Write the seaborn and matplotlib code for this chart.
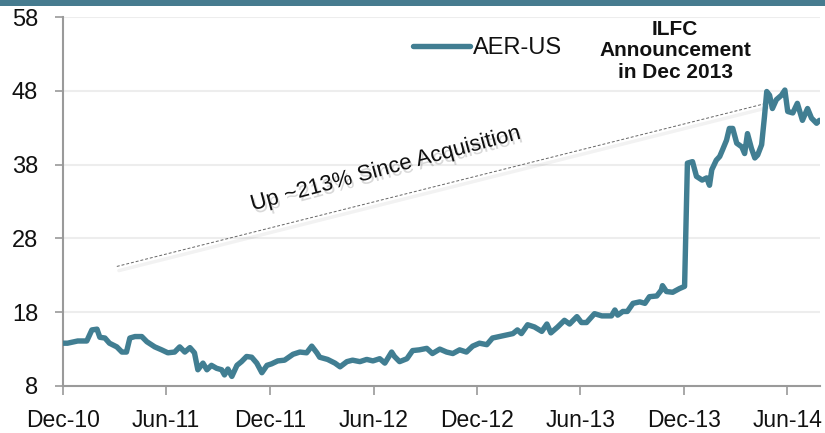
import matplotlib
matplotlib.use("Agg")
import matplotlib.pyplot as plt
import matplotlib.dates as mdates
import matplotlib.patheffects as pe
from matplotlib.patches import Rectangle
import seaborn as sns
import pandas as pd

# ---- data ----
dates = [
    "2010-12-01", "2010-12-09", "2010-12-27", "2011-01-12", "2011-01-21", "2011-01-30",
    "2011-02-04", "2011-02-13", "2011-02-21", "2011-03-06", "2011-03-15", "2011-03-23",
    "2011-03-29", "2011-04-07", "2011-04-19", "2011-04-28", "2011-05-12", "2011-05-24",
    "2011-06-04", "2011-06-16", "2011-06-25", "2011-07-04", "2011-07-13", "2011-07-21",
    "2011-07-27", "2011-08-05", "2011-08-12", "2011-08-20", "2011-08-29", "2011-09-07",
    "2011-09-12", "2011-09-18", "2011-09-25", "2011-10-04", "2011-10-12", "2011-10-21",
    "2011-10-30", "2011-11-08", "2011-11-17", "2011-11-26", "2011-12-04", "2011-12-15",
    "2011-12-27", "2012-01-11", "2012-01-23", "2012-02-04", "2012-02-13", "2012-02-22",
    "2012-02-27", "2012-03-12", "2012-03-25", "2012-04-03", "2012-04-15", "2012-04-25",
    "2012-05-08", "2012-05-20", "2012-05-31", "2012-06-12", "2012-06-21", "2012-07-03",
    "2012-07-08", "2012-07-17", "2012-07-30", "2012-08-09", "2012-08-21", "2012-09-03",
    "2012-09-13", "2012-09-26", "2012-10-08", "2012-10-19", "2012-10-31", "2012-11-12",
    "2012-11-23", "2012-12-05", "2012-12-18", "2012-12-28", "2013-01-15", "2013-02-02",
    "2013-02-10", "2013-02-17", "2013-02-28", "2013-03-12", "2013-03-25", "2013-04-03",
    "2013-04-10", "2013-04-22", "2013-05-04", "2013-05-13", "2013-05-26", "2013-06-03",
    "2013-06-12", "2013-06-26", "2013-07-09", "2013-07-26", "2013-08-01", "2013-08-06",
    "2013-08-15", "2013-08-23", "2013-09-02", "2013-09-14", "2013-09-23", "2013-10-01",
    "2013-10-14", "2013-10-22", "2013-10-24", "2013-10-31", "2013-11-11", "2013-11-23",
    "2013-12-02", "2013-12-07", "2013-12-16", "2013-12-23", "2014-01-02", "2014-01-10",
    "2014-01-15", "2014-01-19", "2014-01-27", "2014-02-02", "2014-02-07", "2014-02-14",
    "2014-02-19", "2014-02-25", "2014-03-04", "2014-03-13", "2014-03-18", "2014-03-23",
    "2014-03-30", "2014-04-05", "2014-04-10", "2014-04-17", "2014-04-22", "2014-04-26",
    "2014-05-01", "2014-05-06", "2014-05-13", "2014-05-22", "2014-05-28", "2014-06-02",
    "2014-06-11", "2014-06-19", "2014-06-28", "2014-07-07", "2014-07-14", "2014-07-23",
    "2014-07-28",
]
aer_us = [
    13.8, 13.8, 14.1, 14.1, 15.6, 15.7,
    14.6, 14.5, 13.8, 13.3, 12.6, 12.6,
    14.5, 14.7, 14.7, 14.0, 13.3, 12.9,
    12.5, 12.6, 13.3, 12.6, 13.2, 12.5,
    10.2, 11.1, 10.2, 10.8, 10.4, 10.2,
    9.5, 10.3, 9.3, 10.8, 11.3, 12.0,
    11.9, 11.1, 9.8, 10.8, 11.0, 11.4,
    11.5, 12.3, 12.6, 12.5, 13.4, 12.5,
    11.9, 11.6, 11.1, 10.6, 11.3, 11.5,
    11.3, 11.6, 11.4, 11.7, 11.1, 12.6,
    12.0, 11.3, 11.7, 12.8, 12.9, 13.1,
    12.4, 13.0, 12.6, 12.4, 12.9, 12.6,
    13.4, 13.8, 13.6, 14.5, 14.8, 15.1,
    15.6, 15.1, 16.3, 16.0, 15.4, 16.4,
    15.2, 16.0, 16.9, 16.4, 17.4, 16.6,
    16.6, 17.8, 17.5, 17.5, 18.3, 17.6,
    18.1, 18.1, 19.2, 19.4, 19.2, 20.1,
    20.2, 21.0, 21.6, 20.8, 20.7, 21.2,
    21.5, 38.2, 38.4, 36.4, 35.9, 36.2,
    35.2, 37.3, 38.6, 39.1, 40.0, 41.3,
    42.9, 42.9, 40.9, 40.4, 39.5, 42.2,
    40.2, 38.9, 39.3, 40.7, 44.5, 47.9,
    47.4, 45.6, 46.8, 47.4, 48.1, 45.2,
    45.0, 46.3, 44.0, 45.6, 44.3, 43.6,
    44.0,
]
series_name = "AER-US"

trend_dates = ["2011-03-06", "2014-04-25"]
trend_values = [24.2, 46.3]
trend_label = "Up ~213% Since Acquisition"
trend_label_date = "2012-06-23"
trend_label_value = 37.4

note_text = "ILFC\nAnnouncement\nin Dec 2013"

tick_dates = ["2010-12-01", "2011-06-01", "2011-12-01", "2012-06-01",
              "2012-12-01", "2013-06-01", "2013-12-01", "2014-06-01"]
y_ticks = [8, 18, 28, 38, 48, 58]

# ---- style ----
sns.set_theme(style="white")
plt.rcParams["font.family"] = ["Liberation Sans", "DejaVu Sans"]

LINE_COLOR = "#417E92"
BAR_COLOR = "#467B8F"
AXIS_GREY = "#9A9A9A"
GRID_GREY = "#EDEDED"
TEXT_COLOR = "#111111"

df = pd.DataFrame({"date": pd.to_datetime(dates), "value": aer_us})

fig = plt.figure(figsize=(8.25, 4.33), dpi=100)
ax = fig.add_axes([63 / 825, 1 - 386 / 433, (820 - 63) / 825, (386 - 17) / 433])

# header bar
fig.patches.append(Rectangle((0, 1 - 5.5 / 433), 1, 5.5 / 433, transform=fig.transFigure,
                             facecolor=BAR_COLOR, edgecolor="none", zorder=10))

for yv in y_ticks[1:]:
    ax.axhline(yv, color=GRID_GREY, lw=1.5, zorder=0)

# trend line (dashed) with a soft solid shadow
tdates = pd.to_datetime(trend_dates)
ax.plot(tdates, trend_values, color="#000000", lw=2.5, alpha=0.05, zorder=1,
        path_effects=[pe.Stroke(offset=(1.5, -3))])
ax.plot(tdates, trend_values, color="#666666", lw=0.7,
        linestyle=(0, (3, 2)), zorder=2)

sns.lineplot(data=df, x="date", y="value", ax=ax, color=LINE_COLOR, lw=3.9,
             label=series_name, zorder=3)

ax.text(pd.Timestamp(trend_label_date), trend_label_value, trend_label,
        rotation=15, rotation_mode="anchor", ha="center", va="center",
        fontsize=16, color=TEXT_COLOR, zorder=4,
        path_effects=[pe.withSimplePatchShadow(offset=(1.5, -2.5), shadow_rgbFace="#000000", alpha=0.15)])

fig.text(675 / 825, 1 - 51 / 433, note_text, ha="center", va="center",
         fontsize=15, fontweight="bold", color=TEXT_COLOR, linespacing=1.15)

ax.set_xlim(pd.Timestamp("2010-12-01"), pd.Timestamp("2014-07-29"))
ax.set_ylim(8, 58)
ax.set_yticks(y_ticks)
ax.set_xticks(pd.to_datetime(tick_dates))
ax.xaxis.set_major_formatter(mdates.DateFormatter("%b-%y"))
ax.set_xlabel("")
ax.set_ylabel("")

for side in ["top", "right"]:
    ax.spines[side].set_visible(False)
for side in ["left", "bottom"]:
    ax.spines[side].set_color(AXIS_GREY)
    ax.spines[side].set_linewidth(1.5)

ax.tick_params(axis="x", which="major", direction="out", length=6.5, width=1.2,
               color=AXIS_GREY, labelsize=16.5, labelcolor=TEXT_COLOR, pad=10, bottom=True)
ax.tick_params(axis="y", which="major", direction="out", length=6, width=1.2,
               color=AXIS_GREY, labelsize=17, labelcolor=TEXT_COLOR, pad=12, left=True)

leg = ax.legend(loc="center left", bbox_to_anchor=(413 / 825, 1 - 48 / 433),
                bbox_transform=fig.transFigure, frameon=False, fontsize=17,
                handlelength=2.4, handletextpad=0.15, borderpad=0, borderaxespad=0)
for t in leg.get_texts():
    t.set_color(TEXT_COLOR)

fig.savefig("out.png", dpi=100)
